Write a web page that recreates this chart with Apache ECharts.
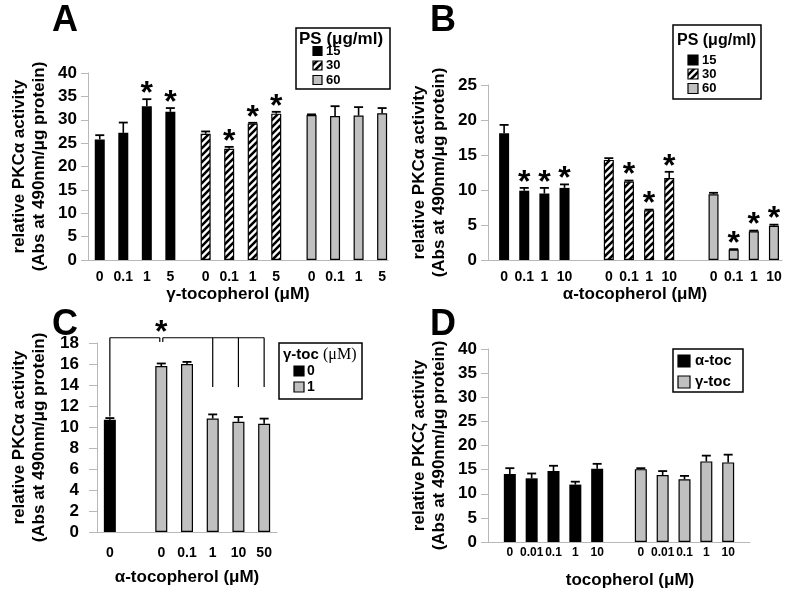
<!DOCTYPE html>
<html><head><meta charset="utf-8">
<script src="https://cdn.jsdelivr.net/npm/echarts@6/dist/echarts.min.js"></script>
<style>html,body{margin:0;padding:0;background:#fff}#c{width:800px;height:597px}</style>
</head><body><div id="c"></div><script>
const FONT = "'Liberation Sans', Arial, Helvetica, sans-serif";

// ---------- Panel A : PKCalpha vs gamma-tocopherol at three PS levels ----------
const aDoses = ['0', '0.1', '1', '5'];
const aPS15 = [25.8, 27.2, 32.9, 31.7];
const aPS15Err = [0.9, 2.2, 1.5, 0.8];
const aPS15Star = [0, 0, 1, 1];
const aPS30 = [27.0, 23.8, 29.2, 31.3];
const aPS30Err = [0.5, 0.4, 0.15, 0.4];
const aPS30Star = [0, 1, 1, 1];
const aPS60 = [31.0, 30.8, 30.9, 31.4];
const aPS60Err = [0.15, 2.1, 1.8, 1.1];
const aPS60Star = [0, 0, 0, 0];

// ---------- Panel B : PKCalpha vs alpha-tocopherol at three PS levels ----------
const bDoses = ['0', '0.1', '1', '10'];
const bPS15 = [18.1, 9.9, 9.5, 10.3];
const bPS15Err = [1.2, 0.4, 0.8, 0.5];
const bPS15Star = [0, 1, 1, 1];
const bPS30 = [14.3, 11.2, 7.1, 11.7];
const bPS30Err = [0.25, 0.15, 0.1, 0.9];
const bPS30Star = [0, 1, 1, 1];
const bPS60 = [9.4, 1.5, 4.1, 4.9];
const bPS60Err = [0.2, 0.05, 0.1, 0.15];
const bPS60Star = [0, 1, 1, 1];

// ---------- Panel C : PKCalpha, gamma-toc 0 / 1 uM with alpha-toc ----------
const cDoses0 = ['0'];
const cGamma0 = [10.7];
const cGamma0Err = [0.15];
const cDoses1 = ['0', '0.1', '1', '10', '50'];
const cGamma1 = [15.8, 16.0, 10.8, 10.5, 10.3];
const cGamma1Err = [0.25, 0.2, 0.4, 0.45, 0.5];

// ---------- Panel D : PKCzeta vs tocopherol ----------
const dDoses = ['0', '0.01', '0.1', '1', '10'];
const dAlpha = [14.1, 13.2, 14.7, 11.9, 15.2];
const dAlphaErr = [1.2, 1.0, 1.1, 0.6, 1.0];
const dGamma = [15.1, 13.9, 13.0, 16.7, 16.5];
const dGammaErr = [0.2, 0.8, 0.7, 1.2, 1.6];

// ---------- styles ----------
function hatchCanvas() {
  const s = 7, c = document.createElement('canvas');
  c.width = s; c.height = s;
  const g = c.getContext('2d');
  g.fillStyle = '#fff'; g.fillRect(0, 0, s, s);
  g.strokeStyle = '#000'; g.lineWidth = 2.6;
  g.beginPath();
  g.moveTo(-1, s + 1); g.lineTo(s + 1, -1);
  g.moveTo(-2, 2); g.lineTo(2, -2);
  g.moveTo(s - 2, s + 2); g.lineTo(s + 2, s - 2);
  g.stroke();
  return c;
}
const HATCH = hatchCanvas();
const STY = {
  black: { color: '#000', borderColor: '#000', borderWidth: 0 },
  hatch: { color: { image: HATCH, repeat: 'repeat' }, borderColor: '#000', borderWidth: 1.2 },
  gray: { color: '#c0c0c0', borderColor: '#000', borderWidth: 1.2 }
};

const panels = [
  { grid: { left: 88, top: 73, width: 300, height: 187 }, total: 52, boundaryGap: false, lead: 2, step: 4, gap: 6,
    barWidth: 10, yMax: 40, yInt: 5, yName: 'relative PKCα activity\n(Abs at 490nm/μg protein)', yGap: 39, yMargin: 11, yTick: 7,
    xName: 'γ-tocopherol (μM)', xGap: 26, xMargin: 10, xFont: 14,
    groups: [
      { name: '15', doses: aDoses, values: aPS15, errs: aPS15Err, stars: aPS15Star, style: 'black' },
      { name: '30', doses: aDoses, values: aPS30, errs: aPS30Err, stars: aPS30Star, style: 'hatch' },
      { name: '60', doses: aDoses, values: aPS60, errs: aPS60Err, stars: aPS60Star, style: 'gray' }
    ] },
  { grid: { left: 488, top: 85, width: 294, height: 175 }, total: 74, boundaryGap: false, lead: 4, step: 5, gap: 11,
    barWidth: 10, yMax: 25, yInt: 5, yName: 'relative PKCα activity\n(Abs at 490nm/μg protein)', yGap: 39, yMargin: 11, yTick: 7,
    xName: 'α-tocopherol (μM)', xGap: 26, xMargin: 10, xFont: 14,
    groups: [
      { name: '15', doses: bDoses, values: bPS15, errs: bPS15Err, stars: bPS15Star, style: 'black' },
      { name: '30', doses: bDoses, values: bPS30, errs: bPS30Err, stars: bPS30Star, style: 'hatch' },
      { name: '60', doses: bDoses, values: bPS60, errs: bPS60Err, stars: bPS60Star, style: 'gray' }
    ] },
  { grid: { left: 97, top: 343, width: 180, height: 189 }, total: 7, boundaryGap: true, lead: 0, step: 1, gap: 2,
    barWidth: 12, yMax: 18, yInt: 2, yName: 'relative PKCα activity\n(Abs at 490nm/μg protein)', yGap: 48, yMargin: 18, yTick: 8,
    xName: 'α-tocopherol (μM)', xGap: 37, xMargin: 14, xFont: 14,
    groups: [
      { name: '0', doses: cDoses0, values: cGamma0, errs: cGamma0Err, stars: [0], style: 'black' },
      { name: '1', doses: cDoses1, values: cGamma1, errs: cGamma1Err, stars: [0, 0, 0, 0, 0], style: 'gray' }
    ] },
  { grid: { left: 488, top: 349, width: 262, height: 193 }, total: 13, boundaryGap: false, lead: 1, step: 1, gap: 2,
    barWidth: 12, yMax: 40, yInt: 5, yName: 'relative PKCζ activity\n(Abs at 490nm/μg protein)', yGap: 39, yMargin: 11, yTick: 7,
    xName: 'tocopherol (μM)', xGap: 30, xMargin: 5, xFont: 12, xNamePad: [0, 0, 0, 22],
    groups: [
      { name: 'α-toc', doses: dDoses, values: dAlpha, errs: dAlphaErr, stars: [0, 0, 0, 0, 0], style: 'black' },
      { name: 'γ-toc', doses: dDoses, values: dGamma, errs: dGammaErr, stars: [0, 0, 0, 0, 0], style: 'gray' }
    ] }
];

const grids = [], xAxes = [], yAxes = [], series = [];
const AX = '#b8b8b8';

function errRender(cap) {
  return function (params, api) {
    const s = api.value(0), v = api.value(1), e = api.value(2), st = api.value(3);
    const base = api.coord([s, v]), top = api.coord([s, v + e]);
    const ch = [];
    if (base[1] - top[1] > 0.8) ch.push({ type: 'line', shape: { x1: base[0], y1: base[1], x2: top[0], y2: top[1] }, style: { stroke: '#000', lineWidth: 1.6 } });
    ch.push({ type: 'line', shape: { x1: top[0] - cap, y1: top[1], x2: top[0] + cap, y2: top[1] }, style: { stroke: '#000', lineWidth: 1.8 } });
    if (st) ch.push({ type: 'text', x: top[0], y: top[1] - 5, style: { text: '*', font: 'bold 32px ' + FONT, fill: '#000', align: 'center', verticalAlign: 'middle' } });
    return { type: 'group', children: ch };
  };
}

panels.forEach((p, i) => {
  const cats = new Array(p.total).fill('');
  let pos = p.lead;
  p.groups.forEach(g => {
    g.slots = [];
    g.doses.forEach(d => { g.slots.push(pos); cats[pos] = d; pos += p.step; });
    pos += p.gap - p.step;
  });
  grids.push(Object.assign({ outerBoundsMode: 'none', containLabel: false }, p.grid));
  xAxes.push({
    type: 'category', gridIndex: i, data: cats, boundaryGap: p.boundaryGap,
    axisLine: { show: true, lineStyle: { color: AX, width: 1 } }, axisTick: { show: false },
    axisLabel: { interval: 0, color: '#000', fontWeight: 'bold', fontSize: p.xFont, fontFamily: FONT, margin: p.xMargin },
    splitLine: { show: false },
    name: p.xName, nameLocation: 'middle', nameGap: p.xGap,
    nameTextStyle: { color: '#000', fontWeight: 'bold', fontSize: 17, fontFamily: FONT, padding: p.xNamePad || 0 }
  });
  yAxes.push({
    type: 'value', gridIndex: i, min: 0, max: p.yMax, interval: p.yInt,
    axisLine: { show: true, lineStyle: { color: AX, width: 1 } },
    axisTick: { show: true, length: p.yTick, lineStyle: { color: AX } },
    axisLabel: { color: '#000', fontWeight: 'bold', fontSize: 17, fontFamily: FONT, margin: p.yMargin },
    splitLine: { show: false },
    name: p.yName, nameLocation: 'middle', nameGap: p.yGap, nameRotate: 90,
    nameTextStyle: { color: '#000', fontWeight: 'bold', fontSize: 17, lineHeight: 20, fontFamily: FONT }
  });
  const errData = [];
  p.groups.forEach(g => {
    const data = new Array(p.total).fill(null);
    g.slots.forEach((s, k) => { data[s] = g.values[k]; errData.push([s, g.values[k], g.errs[k], g.stars[k]]); });
    series.push({
      type: 'bar', name: g.name, xAxisIndex: i, yAxisIndex: i, data: data,
      barWidth: p.barWidth, barGap: '-100%', clip: false, silent: true,
      itemStyle: STY[g.style], z: 2
    });
  });
  series.push({
    type: 'custom', xAxisIndex: i, yAxisIndex: i, data: errData, clip: false, silent: true, z: 3,
    encode: { x: 0, y: 1 }, renderItem: errRender(4.5)
  });
});

// Panel C significance bracket (annotation, in data units of panel C)
const cBracketLevel = 18.5;
const cBracketLeftDrop = 11.0;
const cBracketRightDrop = 13.8;
const cSlots0 = panels[2].groups[0].slots, cSlots1 = panels[2].groups[1].slots;
series.push({
  type: 'custom', xAxisIndex: 2, yAxisIndex: 2, data: [[0, 0]], clip: false, silent: true, z: 4,
  renderItem: function (params, api) {
    const L = 'line', st = { stroke: '#000', lineWidth: 1.2 };
    const a = api.coord([cSlots0[0], cBracketLevel]);
    const aBot = api.coord([cSlots0[0], cBracketLeftDrop]);
    const n = api.coord([cSlots1[0], cBracketLevel]);
    const nDrop = api.coord([cSlots1[0], cBracketLevel - 0.4]);
    const e = api.coord([cSlots1[cSlots1.length - 1], cBracketLevel]);
    const ch = [
      { type: L, shape: { x1: a[0], y1: a[1], x2: aBot[0], y2: aBot[1] }, style: st },
      { type: L, shape: { x1: a[0], y1: a[1], x2: n[0] - 1.5, y2: n[1] }, style: st },
      { type: L, shape: { x1: n[0] - 1.5, y1: n[1], x2: n[0] - 1.5, y2: nDrop[1] }, style: st },
      { type: L, shape: { x1: n[0] + 1.5, y1: n[1], x2: n[0] + 1.5, y2: nDrop[1] }, style: st },
      { type: L, shape: { x1: n[0] + 1.5, y1: n[1], x2: e[0], y2: e[1] }, style: st },
      { type: 'text', x: n[0], y: n[1] - 5, style: { text: '*', font: 'bold 32px ' + FONT, fill: '#000', align: 'center', verticalAlign: 'middle' } }
    ];
    cSlots1.slice(2).forEach(s => {
      const t = api.coord([s, cBracketLevel]), b = api.coord([s, cBracketRightDrop]);
      ch.push({ type: L, shape: { x1: t[0], y1: t[1], x2: b[0], y2: b[1] }, style: st });
    });
    return { type: 'group', children: ch };
  }
});

// ---------- legends and panel letters ----------
function legendBox(x, y, w, h, title, items, sw, sx, lx, fs) {
  const ch = [{ type: 'rect', shape: { x: x, y: y, width: w, height: h }, style: { fill: '#fff', stroke: '#000', lineWidth: 1.5 } }];
  if (title) ch.push(title);
  items.forEach(it => {
    ch.push({ type: 'rect', shape: { x: sx, y: it.y - sw / 2, width: sw, height: sw }, style: Object.assign({ stroke: '#000', lineWidth: 1.2 }, { fill: it.fill }) });
    ch.push({ type: 'text', x: lx, y: it.y, style: { text: it.label, font: 'bold ' + fs + 'px ' + FONT, fill: '#000', verticalAlign: 'middle', align: 'left' } });
  });
  return { type: 'group', children: ch };
}
const HATCHFILL = { image: HATCH, repeat: 'repeat' };
function titleText(x, y, text, fs) {
  return { type: 'text', x: x, y: y, style: { text: text, font: 'bold ' + fs + 'px ' + FONT, fill: '#000', verticalAlign: 'middle', align: 'left' } };
}
const graphics = [
  legendBox(296, 28, 94, 61, titleText(299, 39, 'PS (μg/ml)', 17),
    [{ y: 51, label: '15', fill: '#000' }, { y: 65.5, label: '30', fill: HATCHFILL }, { y: 80, label: '60', fill: '#c0c0c0' }], 9, 313, 326, 13),
  legendBox(673, 25, 88, 74, titleText(677, 41, 'PS (μg/ml)', 16),
    [{ y: 60, label: '15', fill: '#000' }, { y: 74, label: '30', fill: HATCHFILL }, { y: 88.5, label: '60', fill: '#c0c0c0' }], 10, 688, 702, 13),
  legendBox(279, 343, 83, 56, {
      type: 'text', x: 283, y: 355,
      style: { text: '{a|γ-toc }{b|(μM)}', verticalAlign: 'middle', align: 'left',
        rich: { a: { font: 'bold 15px ' + FONT, fill: '#000' }, b: { font: '16px "Liberation Serif", "Times New Roman", serif', fill: '#000' } } }
    },
    [{ y: 371, label: '0', fill: '#000' }, { y: 387, label: '1', fill: '#c0c0c0' }], 10, 294, 307, 14),
  legendBox(673, 349, 70, 43, null,
    [{ y: 361, label: 'α-toc', fill: '#000' }, { y: 382, label: 'γ-toc', fill: '#c0c0c0' }], 12, 678, 695, 15)
];
[['A', 52, 21], ['B', 430, 21], ['C', 52, 325], ['D', 430, 325]].forEach(t => {
  graphics.push({ type: 'text', x: t[1], y: t[2], style: { text: t[0], font: 'bold 36px ' + FONT, fill: '#000', verticalAlign: 'middle', align: 'left' } });
});

const chart = echarts.init(document.getElementById('c'), null, { renderer: 'canvas' });
chart.setOption({
  animation: false,
  backgroundColor: '#fff',
  textStyle: { fontFamily: FONT },
  grid: grids, xAxis: xAxes, yAxis: yAxes, series: series,
  graphic: graphics
});
</script></body></html>
